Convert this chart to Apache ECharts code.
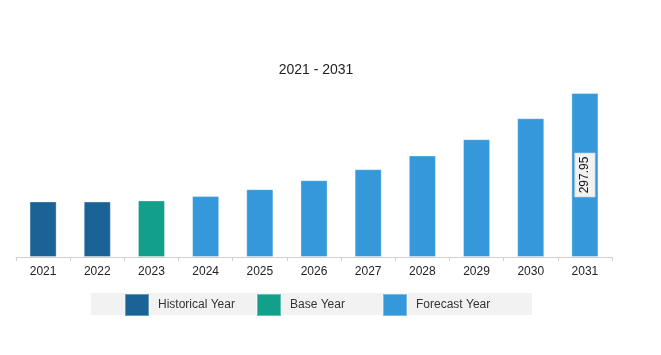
<!DOCTYPE html>
<html>
<head>
<meta charset="utf-8">
<script src="https://cdn.jsdelivr.net/npm/echarts@6/dist/echarts.min.js"></script>
<style>html,body{margin:0;padding:0;background:#fff;}#c{width:661px;height:355px;}</style>
</head>
<body>
<div id="c"></div>
<script>
const categories = ['2021','2022','2023','2024','2025','2026','2027','2028','2029','2030','2031'];
const historical = [101.0, 100.8, '-', '-', '-', '-', '-', '-', '-', '-', '-'];
const baseYear = ['-', '-', 102.8, '-', '-', '-', '-', '-', '-', '-', '-'];
const forecast = ['-', '-', '-', 110.6, 123.3, 139.6, 159.6, 184.4, 214.0, 252.1, 297.95];
const labelledValue = 297.95;
const titleText = '2021 - 2031';
const names = ['Historical Year', 'Base Year', 'Forecast Year'];
const colors = ['#1a6396', '#13a08a', '#3498db'];

const chart = echarts.init(document.getElementById('c'), null, {renderer: 'canvas'});
const font = 'Liberation Sans, Arial, sans-serif';
const border = {borderColor: 'rgba(255,255,255,0.35)', borderWidth: 1};
function legendAt(name, left) {
  return {
    data: [name], left: left, top: 293, itemWidth: 24, itemHeight: 22, itemGap: 0,
    padding: 0, icon: 'rect', selectedMode: false,
    textStyle: {fontFamily: font, fontSize: 12, color: '#333', padding: [0, 0, 0, 4]}
  };
}
const forecastData = forecast.map(v => v === labelledValue ? {
  value: v,
  label: {show: true, position: 'inside', rotate: 90,
    fontFamily: font, fontSize: 12, color: '#111', backgroundColor: '#f2f2f2',
    borderColor: '#ddd', borderWidth: 1, padding: [4, 3, 3, 3]}
} : v);
chart.setOption({
  animation: false,
  title: {text: titleText, left: 311, top: 58, textAlign: 'center',
    textStyle: {fontFamily: font, fontSize: 14, fontWeight: 'normal', color: '#222'}},
  graphic: [{type: 'rect', left: 91, top: 293, shape: {width: 441, height: 22}, style: {fill: '#f2f2f2'}, z: -1}],
  legend: [legendAt(names[0], 124), legendAt(names[1], 256), legendAt(names[2], 382)],
  grid: {left: 16, right: 49, top: 93, bottom: 98},
  xAxis: {
    type: 'category', data: categories,
    axisLine: {lineStyle: {color: '#d0d0d0'}},
    axisTick: {show: true, length: 4, lineStyle: {color: '#d0d0d0'}},
    axisLabel: {fontFamily: font, fontSize: 12, color: '#222', margin: 9}
  },
  yAxis: {type: 'value', min: 0, max: labelledValue, show: false, splitLine: {show: false}},
  series: [
    {name: names[0], type: 'bar', stack: 't', data: historical, barWidth: '50%', itemStyle: Object.assign({color: colors[0]}, border)},
    {name: names[1], type: 'bar', stack: 't', data: baseYear, barWidth: '50%', itemStyle: Object.assign({color: colors[1]}, border)},
    {name: names[2], type: 'bar', stack: 't', data: forecastData, barWidth: '50%', itemStyle: Object.assign({color: colors[2]}, border)}
  ]
});
</script>
</body>
</html>
